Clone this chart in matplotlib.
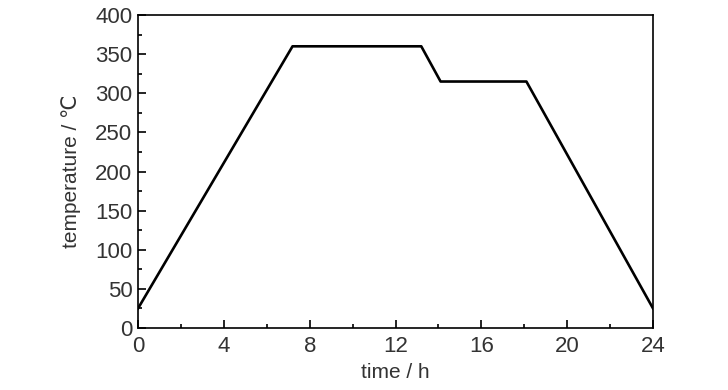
import matplotlib
matplotlib.use('Agg')
import matplotlib.pyplot as plt
from matplotlib.ticker import MultipleLocator

plt.rcParams['font.family'] = ['Liberation Sans', 'DejaVu Sans']

# heating profile
time_h = [0, 7.2, 13.2, 14.1, 18.1, 24]
temp_c = [25, 360, 360, 315, 315, 25]

x_ticks = [0, 4, 8, 12, 16, 20, 24]
y_ticks = [0, 50, 100, 150, 200, 250, 300, 350, 400]

fig = plt.figure(figsize=(7.28, 3.9), dpi=100)
ax = fig.add_axes([0.1896, 0.159, 0.7074, 0.8025])
ax.plot(time_h, temp_c, color='black', linewidth=1.9)

ax.set_xlim(0, 24)
ax.set_ylim(0, 400)
ax.set_xticks(x_ticks)
ax.set_yticks(y_ticks)
ax.xaxis.set_minor_locator(MultipleLocator(2))
ax.yaxis.set_minor_locator(MultipleLocator(25))
ax.tick_params(which='both', direction='in', top=False, right=False,
               labelsize=16, labelcolor='#333333', width=1.2)
ax.tick_params(which='major', length=6)
ax.tick_params(which='minor', length=3)
ax.tick_params(axis='x', which='major', pad=6)
ax.tick_params(axis='y', which='major', pad=4)
for s in ax.spines.values():
    s.set_linewidth(1.2)

ax.set_xlabel('time / h', fontsize=15, color='#333333', labelpad=4)
ax.set_ylabel('temperature / \u2103', fontsize=15, color='#333333', labelpad=10)

fig.savefig('out.png', dpi=100)
